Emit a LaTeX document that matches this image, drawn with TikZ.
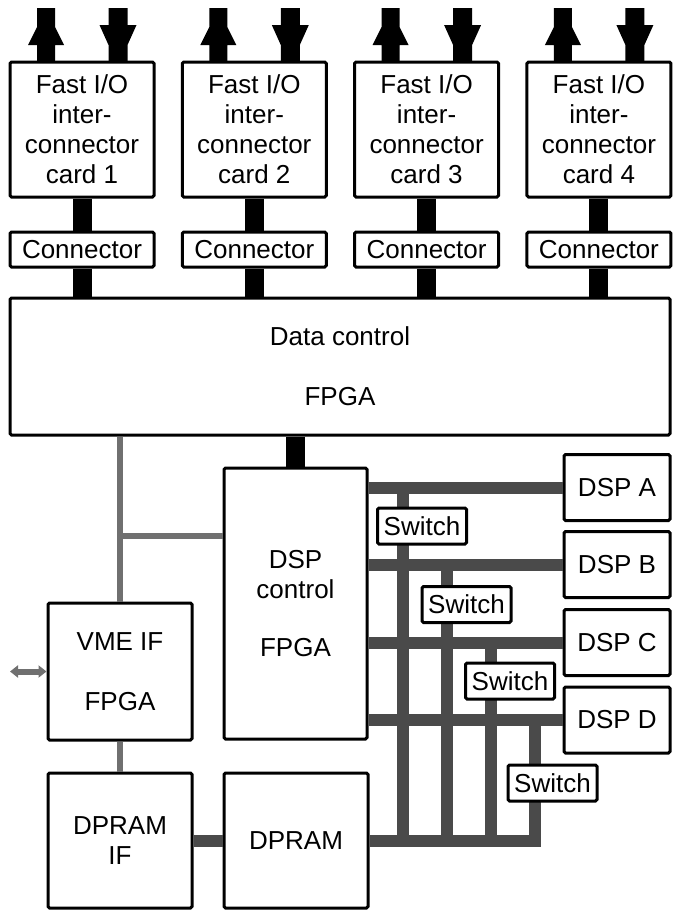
\documentclass[tikz,border=0pt]{standalone}
\usepackage{fontspec}
\setmainfont{Liberation Sans}
\usetikzlibrary{arrows.meta,calc}
\definecolor{thingray}{HTML}{707070}
\definecolor{busgray}{HTML}{4A4A4A}
\begin{document}
\begin{tikzpicture}[x=1pt,y=-1pt,
  font=\fontsize{26}{30}\selectfont,
  box/.style={draw, line width=3pt, fill=white, rounded corners=1.5pt, inner sep=0pt, align=center},
  card/.style={box, minimum width=144pt, minimum height=135pt},
  conn/.style={box, minimum width=144pt, minimum height=35pt},
  dspbox/.style={box, minimum width=106pt, minimum height=66pt},
  switchbox/.style={box, minimum width=89pt, minimum height=36pt},
  blackbar/.style={line width=19pt, black},
  bus/.style={line width=12pt, busgray},
  ctrl/.style={line width=6pt, thingray}]
\useasboundingbox (0,0) rectangle (672,910);

% cards and connectors
\foreach \i/\x in {1/82,2/254.3,3/426.6,4/598.9}{
  \node[card] (c\i) at (\x,129.5) {Fast I/O\\inter-\\connector\\card \i};
  \node[conn] (k\i) at (\x,249.5) {Connector};
}
\node[box, minimum width=660pt, minimum height=137pt] (dc) at (340,366.5) {Data control\\[30pt]FPGA};
\foreach \i in {1,...,4}{
  \draw[blackbar] (c\i.south) -- (k\i.north);
  \draw[blackbar] (k\i.south) -- (k\i.south |- dc.north);
  % up arrow
  \fill[shift={(c\i.north)}, xshift=-36pt]
    (-9,-52.5) -- (9,-52.5) -- (9,-33.5) -- (18,-15.5) -- (9,-15.5) -- (9,1.5)
    -- (-9,1.5) -- (-9,-15.5) -- (-18,-15.5) -- (-9,-33.5) -- cycle;
  % down arrow
  \fill[shift={(c\i.north)}, xshift=36pt]
    (-9.5,-52.5) -- (9.5,-52.5) -- (9.5,-35.5) -- (18.5,-35.5) -- (9.5,-15.5) -- (9.5,1.5)
    -- (-9.5,1.5) -- (-9.5,-15.5) -- (-18.5,-35.5) -- (-9.5,-35.5) -- cycle;
}

% lower boxes
\node[box, minimum width=143pt, minimum height=271pt] (dsc) at (295.5,603.5) {DSP\\control\\[28pt]FPGA};
\node[box, minimum width=144pt, minimum height=137pt] (vme) at (120,671.5) {VME IF\\[30pt]FPGA};
\node[box, minimum width=144pt, minimum height=135pt] (dpif) at (120,840.5) {DPRAM\\IF};
\node[box, minimum width=144pt, minimum height=135pt] (dpram) at (296,840.5) {DPRAM};
\node[dspbox] (dA) at (617,487.5) {DSP A};
\node[dspbox] (dB) at (617,564.5) {DSP B};
\node[dspbox] (dC) at (617,642.5) {DSP C};
\node[dspbox] (dD) at (617,720) {DSP D};

% black bar data control -> DSP control
\draw[blackbar] (dc.south -| dsc.north) -- (dsc.north);

% gray control lines
\coordinate (g) at (120,536);
\draw[ctrl] (dc.south -| vme.north) -- (vme.north);
\draw[ctrl] (g) -- (g -| dsc.west);
\draw[ctrl] (vme.south) -- (dpif.north);
\coordinate (vmeext) at (10,671.5);
\draw[ctrl, {Triangle[length=8pt,width=12pt]}-{Triangle[length=8pt,width=12pt]}] (vmeext) -- (vme.west);

% bus grid
\coordinate (v1) at (403,0);
\coordinate (v2) at (447,0);
\coordinate (v3) at (491,0);
\coordinate (v4) at (535,0);
\draw[bus] (dpif.east) -- (dpram.west);
\foreach \d in {dA,dB,dC,dD}{
  \draw[bus] (dsc.east |- \d.west) -- (\d.west);
}
\draw[bus] (v1 |- dA.west) -- (v1 |- dpram.east);
\draw[bus] (v2 |- dB.west) -- (v2 |- dpram.east);
\draw[bus] (v3 |- dC.west) -- (v3 |- dpram.east);
\draw[bus] (dpram.east) -| (v4 |- dD.west);

% switches
\node[switchbox] (s1) at (422,526) {Switch};
\node[switchbox] (s2) at (466.5,604.5) {Switch};
\node[switchbox] (s3) at (510,681) {Switch};
\node[switchbox] (s4) at (552.5,783) {Switch};
\end{tikzpicture}
\end{document}
